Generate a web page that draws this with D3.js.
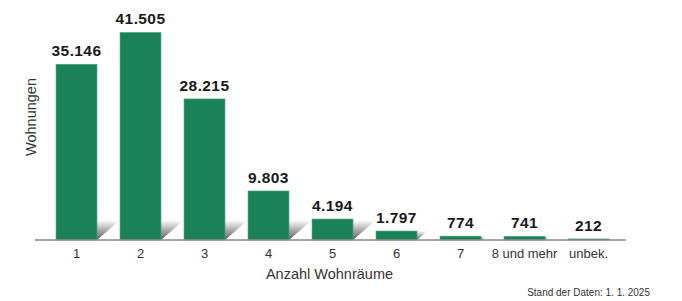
<!DOCTYPE html>
<html><head><meta charset="utf-8">
<script src="https://cdn.jsdelivr.net/npm/d3@7"></script>
<style>body{margin:0;background:#fff}svg{display:block}text{font-family:"Liberation Sans",Arial,sans-serif}</style>
</head><body><div id="chart"></div>
<script>
const categories = ["1","2","3","4","5","6","7","8 und mehr","unbek."];
const values = [35146,41505,28215,9803,4194,1797,774,741,212];
const valueLabels = ["35.146","41.505","28.215","9.803","4.194","1.797","774","741","212"];
const yDomainMax = 48000;

const W = 682, H = 301;
const svg = d3.select("#chart").append("svg").attr("width", W).attr("height", H);
const defs = svg.append("defs");
const grad = defs.append("linearGradient").attr("id","sh").attr("x1",0).attr("y1",0).attr("x2",0).attr("y2",1);
grad.append("stop").attr("offset","0%").attr("stop-color","#ffffff");
grad.append("stop").attr("offset","100%").attr("stop-color","#5a5a5a");

const x = d3.scaleBand().domain(categories).range([44.5, 620.5]).paddingInner(0.36).paddingOuter(0.18);
const y = d3.scaleLinear().domain([0, yDomainMax]).range([240, 0]);

const data = categories.map((c,i)=>({c, v:values[i], l:valueLabels[i]}));

// shadows
svg.append("g").selectAll("path").data(data).join("path")
  .attr("d", d => {
    const h = Math.min(y(0) - y(d.v), 20);
    const x0 = x(d.c) + x.bandwidth();
    const b = y(0);
    return `M${x0},${b}L${x0},${b-h}L${x0 + h*1.15},${b-h}Z`;
  })
  .attr("fill", "url(#sh)");

// bars
svg.append("g").selectAll("rect").data(data).join("rect")
  .attr("x", d => x(d.c)).attr("width", x.bandwidth())
  .attr("y", d => y(d.v)).attr("height", d => y(0) - y(d.v))
  .attr("fill", "#1b8257").attr("stroke", "#4fa57f").attr("stroke-width", 0.6);

// axis
const ax = d3.axisBottom(x).tickSize(0).tickPadding(9);
const g = svg.append("g").attr("transform", `translate(0,${y(0)})`).call(ax);
g.select(".domain").remove();
g.selectAll("text").attr("font-size", 13).attr("fill", "#333").attr("font-family", '"Liberation Sans",Arial,sans-serif');
svg.append("line").attr("x1", 35).attr("x2", 626).attr("y1", y(0)).attr("y2", y(0))
  .attr("stroke", "#8a8a8a").attr("stroke-width", 1.5);

// value labels
svg.append("g").selectAll("text").data(data).join("text")
  .attr("x", d => x(d.c) + x.bandwidth()/2).attr("y", d => y(d.v) - 8.3)
  .attr("text-anchor", "middle").attr("font-size", 15.5).attr("font-weight", "bold")
  .attr("letter-spacing", 0.4)
  .attr("fill", "#1a1a1a").text(d => d.l);

// titles
svg.append("text").attr("x", 329.5).attr("y", 279).attr("text-anchor","middle")
  .attr("font-size", 14.5).attr("fill", "#333").text("Anzahl Wohnräume");
svg.append("text").attr("transform", "translate(36,117) rotate(-90)").attr("text-anchor","middle")
  .attr("font-size", 14.5).attr("fill", "#333").text("Wohnungen");
svg.append("text").attr("x", 650).attr("y", 296).attr("text-anchor","end")
  .attr("font-size", 10).attr("fill", "#333").text("Stand der Daten: 1. 1. 2025");
</script></body></html>
